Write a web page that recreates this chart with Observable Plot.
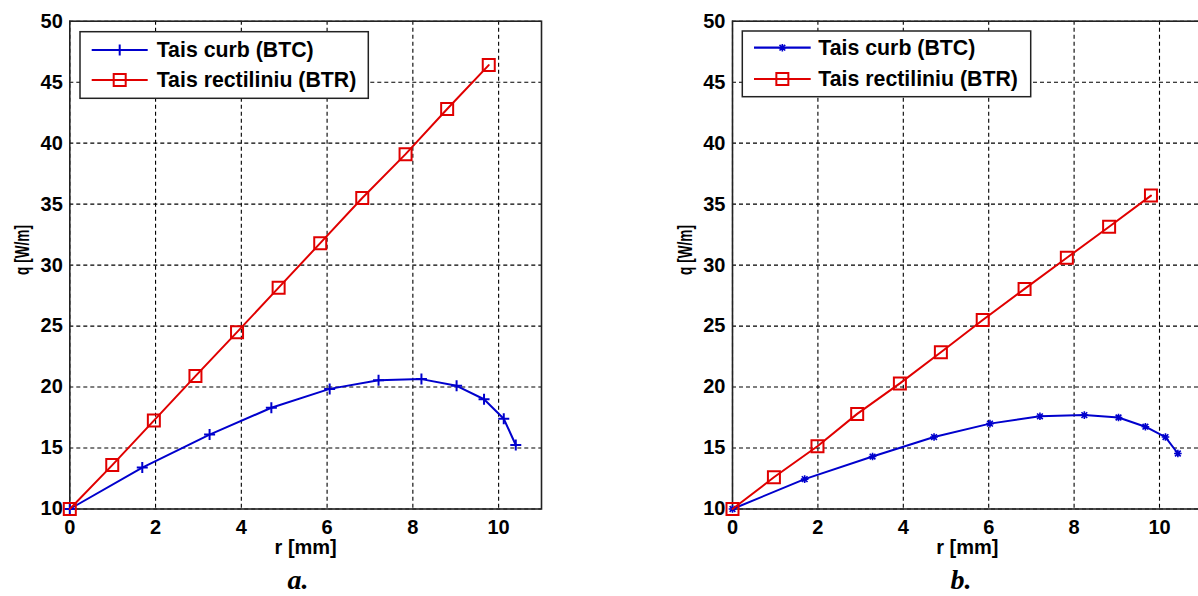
<!DOCTYPE html>
<html><head><meta charset="utf-8">
<script src="https://cdn.jsdelivr.net/npm/d3@7"></script>
<script src="https://cdn.jsdelivr.net/npm/@observablehq/plot@0.6"></script>
<style>
html,body{margin:0;padding:0;background:#fff;overflow:hidden;width:1198px;height:596px;}
#root{position:relative;width:1198px;height:596px;overflow:hidden;}
.panel{position:absolute;top:0;}
#overlay{position:absolute;left:0;top:0;pointer-events:none;}
</style></head><body><div id="root"></div>
<script>
// ---- data ----
const xTicks = [0, 2, 4, 6, 8, 10];
const yTicks = [10, 15, 20, 25, 30, 35, 40, 45, 50];
const seriesNames = ["Tais curb (BTC)", "Tais rectiliniu (BTR)"];
const xLabel = "r [mm]";
const yLabel = "q [W/m]";
const captions = ["a.", "b."];

// panel a
const rBTC_a = [0, 1.69, 3.26, 4.70, 6.06, 7.20, 8.20, 9.02, 9.66, 10.12, 10.40];
const qBTC_a = [10, 13.4, 16.1, 18.3, 19.85, 20.55, 20.65, 20.1, 19.0, 17.4, 15.25];
const rBTR_a = [0, 0.99, 1.96, 2.93, 3.90, 4.87, 5.84, 6.82, 7.83, 8.80, 9.77];
const qBTR_a = [10, 13.6, 17.25, 20.9, 24.5, 28.15, 31.8, 35.5, 39.1, 42.8, 46.4];

// panel b
const rBTC_b = [0, 1.69, 3.28, 4.72, 6.03, 7.20, 8.24, 9.04, 9.67, 10.14, 10.43];
const qBTC_b = [10, 12.45, 14.3, 15.9, 17.0, 17.6, 17.7, 17.5, 16.75, 15.9, 14.55];
const rBTR_b = [0, 0.97, 1.99, 2.92, 3.92, 4.88, 5.86, 6.84, 7.83, 8.82, 9.80];
const qBTR_b = [10, 12.6, 15.15, 17.8, 20.3, 22.85, 25.5, 28.05, 30.6, 33.15, 35.7];

// ---- styling ----
const BLUE = "#0000cd";
const RED = "#e00000";
const FONT = "'Liberation Sans', Arial, sans-serif";

const plusSym = {draw(ctx, size){const r = Math.sqrt(size/Math.PI); ctx.moveTo(-r,0); ctx.lineTo(r,0); ctx.moveTo(0,-r); ctx.lineTo(0,r);}};
const squareSym = {draw(ctx, size){const r = Math.sqrt(size/Math.PI); ctx.rect(-r,-r,2*r,2*r);}};
const starSym = {draw(ctx, size){const r = Math.sqrt(size/Math.PI);
  ctx.moveTo(-r,0); ctx.lineTo(r,0); ctx.moveTo(0,-r); ctx.lineTo(0,r);
  const d = r*0.75; ctx.moveTo(-d,-d); ctx.lineTo(d,d); ctx.moveTo(-d,d); ctx.lineTo(d,-d);}};

const zip = (xs, ys) => xs.map((x, i) => ({r: x, q: ys[i]}));

function panel(btc, btr, btcSym, btcR, btcW, opts) {
  const svg = Plot.plot({
    width: opts.width, height: 570,
    marginLeft: opts.marginLeft, marginRight: opts.marginRight,
    marginTop: 20.7, marginBottom: 570 - 508.5,
    style: {fontFamily: FONT, fontSize: "20px", fontWeight: "bold", color: "#000", background: "transparent", overflow: "visible"},
    x: {domain: [0, 11], ticks: xTicks, tickSize: 0, tickPadding: 11, tickFormat: d => String(d), label: null},
    y: {domain: [10, 50], ticks: yTicks, tickSize: 0, tickPadding: 7, tickFormat: d => String(d), label: null},
    marks: [
      Plot.ruleX(xTicks, {stroke: "#000", strokeWidth: 1.1, strokeDasharray: "4,3"}),
      Plot.ruleY(yTicks, {stroke: "#000", strokeWidth: 1.1, strokeDasharray: "4,3"}),
      Plot.frame({stroke: "#222", strokeWidth: 1.6}),
      Plot.line(btc, {x: "r", y: "q", stroke: BLUE, strokeWidth: 2}),
      Plot.dot(btc, {x: "r", y: "q", symbol: btcSym, r: btcR, stroke: BLUE, fill: "none", strokeWidth: btcW}),
      Plot.line(btr, {x: "r", y: "q", stroke: RED, strokeWidth: 2}),
      Plot.dot(btr, {x: "r", y: "q", symbol: squareSym, r: 6, stroke: RED, fill: "none", strokeWidth: 2}),
      Plot.text([xLabel], {text: d => d, frameAnchor: "bottom", dy: 45, fontSize: 20, fontWeight: "bold"})
    ]
  });
  svg.classList.add("panel");
  svg.style.left = opts.left + "px";
  return svg;
}

const root = document.getElementById("root");
root.appendChild(panel(zip(rBTC_a, qBTC_a), zip(rBTR_a, qBTR_a), plusSym, 5.5, 2, {left: 0, width: 560, marginLeft: 69.3, marginRight: 19}));
root.appendChild(panel(zip(rBTC_b, qBTC_b), zip(rBTR_b, qBTR_b), starSym, 3.8, 1.6, {left: 660, width: 560, marginLeft: 72, marginRight: 18.3}));

// ---- legends, y labels & captions overlay ----
const ov = d3.select(root).append("svg").attr("id", "overlay").attr("width", 1198).attr("height", 596);
function legend(x0, y0, w, h, lineX0, lineX1, textX, rows, btcSymPath, btcW) {
  const g = ov.append("g");
  g.append("rect").attr("x", x0).attr("y", y0).attr("width", w).attr("height", h)
    .attr("fill", "#fff").attr("stroke", "#222").attr("stroke-width", 1.5);
  const cols = [BLUE, RED];
  rows.forEach((ry, i) => {
    g.append("line").attr("x1", lineX0).attr("x2", lineX1).attr("y1", ry).attr("y2", ry)
      .attr("stroke", cols[i]).attr("stroke-width", 2.2);
    const mx = (lineX0 + lineX1) / 2;
    const sym = i === 0 ? btcSymPath : d3.symbol(squareSym, Math.PI * 36)();
    g.append("path").attr("d", sym).attr("transform", `translate(${mx},${ry})`)
      .attr("fill", "none").attr("stroke", cols[i]).attr("stroke-width", i === 0 ? btcW : 2);
    g.append("text").attr("x", textX).attr("y", ry + 7.4).text(seriesNames[i])
      .attr("font-family", FONT).attr("font-size", 21.3).attr("font-weight", "bold").attr("fill", "#000");
  });
}
legend(80, 31.7, 288.3, 66.6, 91.7, 147.7, 156.7, [50, 80], d3.symbol(plusSym, Math.PI * 5.5 * 5.5)(), 2);
legend(742.3, 31, 288.4, 65.7, 754, 810.7, 818.3, [47.7, 79], d3.symbol(starSym, Math.PI * 3.8 * 3.8)(), 1.6);

// y-axis labels (horizontally compressed along the reading direction, as in the original)
[22, 685].forEach(cx => {
  ov.append("text").attr("transform", `translate(${cx},250) rotate(-90) scale(0.68,1)`)
    .attr("text-anchor", "middle").attr("dy", "0.35em").text(yLabel)
    .attr("font-family", FONT).attr("font-size", 20).attr("font-weight", "bold").attr("fill", "#000");
});

[[298, captions[0]], [961, captions[1]]].forEach(([cx, t]) => {
  ov.append("text").attr("x", cx).attr("y", 589).attr("text-anchor", "middle").text(t)
    .attr("font-family", "'Liberation Serif','Times New Roman',serif").attr("font-size", 28)
    .attr("font-weight", "bold").attr("font-style", "italic");
});
</script>
</body></html>
